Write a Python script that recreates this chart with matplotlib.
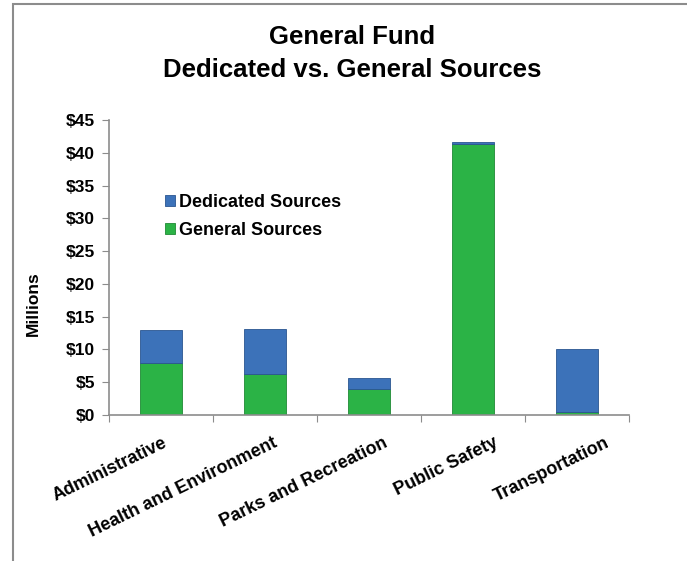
import matplotlib
matplotlib.use("Agg")
import matplotlib.pyplot as plt
from matplotlib.patches import Rectangle
import matplotlib.transforms as mtransforms
import numpy as np

plt.rcParams['font.family'] = ['Liberation Sans', 'DejaVu Sans']

categories = ["Administrative", "Health and Environment", "Parks and Recreation",
              "Public Safety", "Transportation"]
general = [8.0, 6.2, 3.9, 41.4, 0.5]
dedicated = [4.9, 6.9, 1.8, 0.3, 9.6]
yticks = [0, 5, 10, 15, 20, 25, 30, 35, 40, 45]
ytick_labels = ["$0", "$5", "$10", "$15", "$20", "$25", "$30", "$35", "$40", "$45"]

blue = "#3C72B9"
green = "#2BB346"

W, H = 687, 561
fig = plt.figure(figsize=(W / 100, H / 100), dpi=100)
fig.patch.set_facecolor("white")

# outer frame
fig.patches.append(Rectangle((13 / W, -0.1), 1.2, (H - 4) / H + 0.1, transform=fig.transFigure,
                             fill=False, edgecolor="#8c8c8c", linewidth=1.5))

ax = fig.add_axes([109 / W, (H - 415) / H, (629 - 109) / W, (415 - 120) / H])
x = np.arange(len(categories))
bw = 0.41
ax.bar(x, general, bw, color=green, edgecolor="#1f8a35", linewidth=0.6, label="General Sources")
ax.bar(x, dedicated, bw, bottom=general, color=blue, edgecolor="#2a5590", linewidth=0.6,
       label="Dedicated Sources")

ax.set_xlim(-0.5, len(categories) - 0.5)
ax.set_ylim(0, 45)
ax.set_yticks(yticks)
ax.set_yticklabels(ytick_labels, fontsize=12.5, fontweight="bold")
ax.set_xticks(np.arange(len(categories) + 1) - 0.5)
ax.set_xticklabels([])
ax.tick_params(axis="x", which="major", length=5, color="#8c8c8c")
ax.tick_params(axis="y", length=5, color="#8c8c8c", pad=5)

# category labels (rotated), spread slightly as in the original
for i, name in enumerate(categories):
    off = mtransforms.ScaledTranslation((1 + 6.6 * i) / 100, -19.5 / 100, fig.dpi_scale_trans)
    ax.text(x[i], 0, name, transform=ax.get_xaxis_transform() + off, rotation=26,
            ha="right", va="top", rotation_mode="anchor", fontsize=13, fontweight="bold")

for s in ["top", "right"]:
    ax.spines[s].set_visible(False)
for s in ["left", "bottom"]:
    ax.spines[s].set_color("#8c8c8c")
    ax.spines[s].set_linewidth(1.2)

handles, labels = ax.get_legend_handles_labels()
leg = ax.legend(handles[::-1], labels[::-1], loc="upper left",
                bbox_to_anchor=((156 - 109) / (629 - 109), (415 - 185) / (415 - 120)),
                frameon=False, prop={"size": 13, "weight": "bold"}, handlelength=0.55,
                handleheight=0.55, handletextpad=0.2, labelspacing=0.62, borderpad=0)

fig.text(33 / W, 1 - 304 / H, "Millions", rotation=90, ha="center", va="center",
         fontsize=12.5, fontweight="bold")
fig.text(352 / W, 1 - 37 / H, "General Fund", ha="center", va="center",
         fontsize=18.5, fontweight="bold")
fig.text(352 / W, 1 - 70 / H, "Dedicated vs. General Sources", ha="center", va="center",
         fontsize=18.5, fontweight="bold")

fig.savefig("out.png", dpi=100)
